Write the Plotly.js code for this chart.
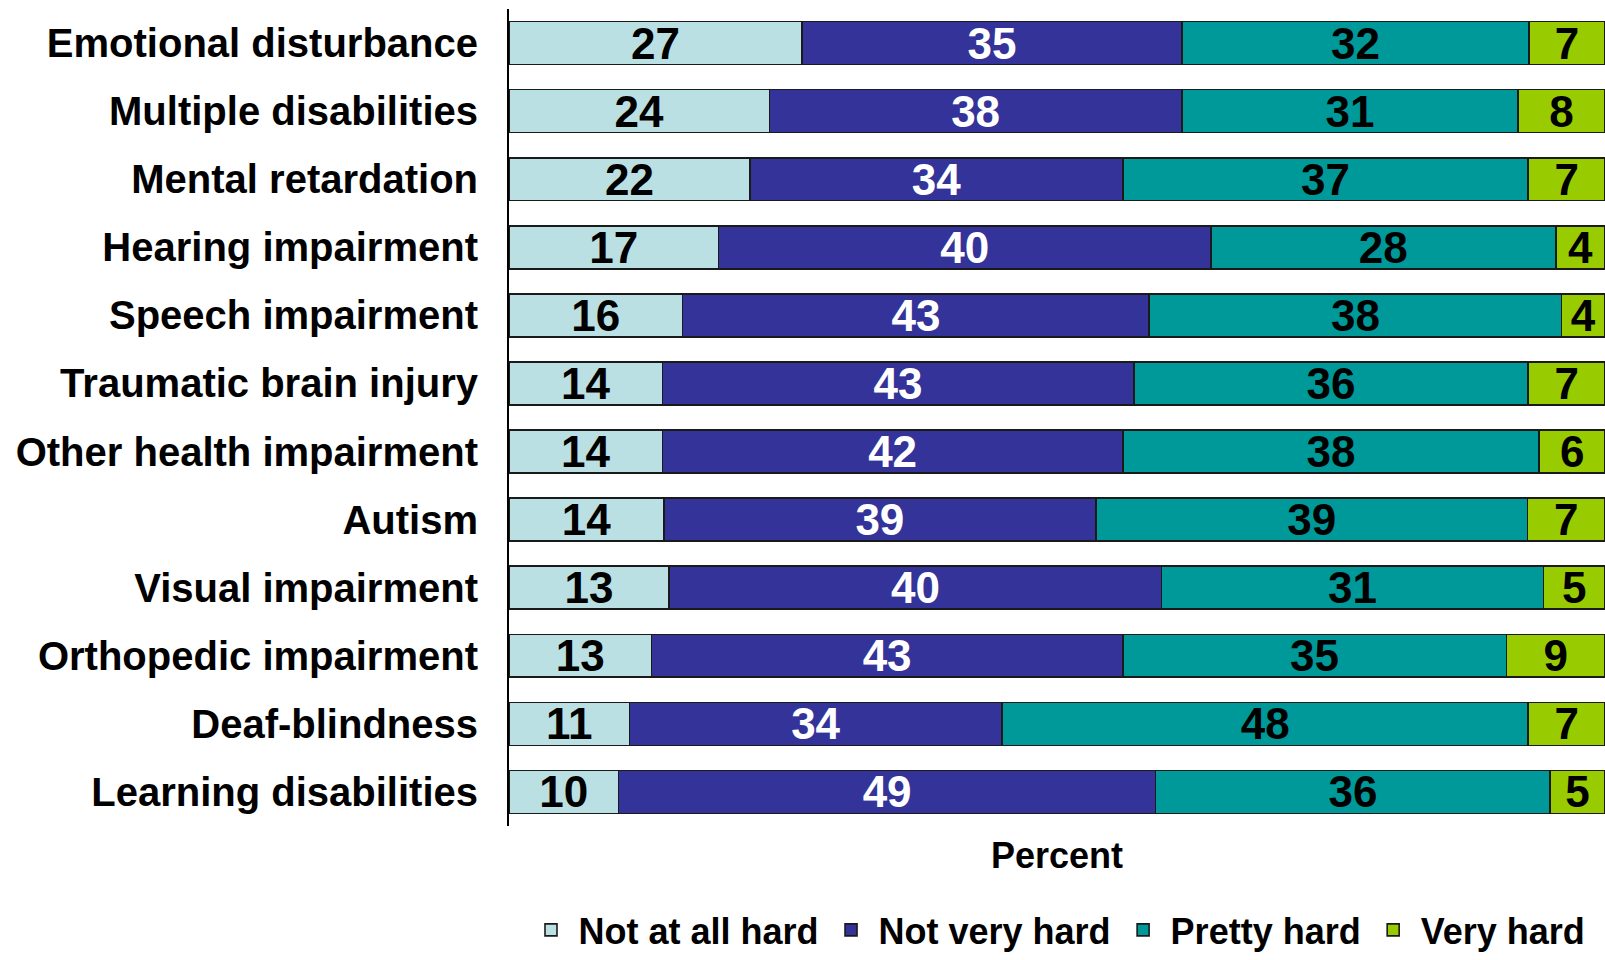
<!DOCTYPE html>
<html>
<head>
<meta charset="utf-8">
<script src="https://cdn.plot.ly/plotly-3.0.1.min.js"></script>
<style>
html,body{margin:0;padding:0;background:#fff;}
#chart{width:1605px;height:960px;}
</style>
</head>
<body>
<div id="chart"></div>
<script>
const categories = [
  "Emotional disturbance",
  "Multiple disabilities",
  "Mental retardation",
  "Hearing impairment",
  "Speech impairment",
  "Traumatic brain injury",
  "Other health impairment",
  "Autism",
  "Visual impairment",
  "Orthopedic impairment",
  "Deaf-blindness",
  "Learning disabilities"
];
const notAtAllHard = [27, 24, 22, 17, 16, 14, 14, 14, 13, 13, 11, 10];
const notVeryHard  = [35, 38, 34, 40, 43, 43, 42, 39, 40, 43, 34, 49];
const prettyHard   = [32, 31, 37, 28, 38, 36, 38, 39, 31, 35, 48, 36];
const veryHard     = [7, 8, 7, 4, 4, 7, 6, 7, 5, 9, 7, 5];

const seriesNames = ["Not at all hard", "Not very hard", "Pretty hard", "Very hard"];
const seriesValues = [notAtAllHard, notVeryHard, prettyHard, veryHard];
const seriesColors = ["#BBE0E3", "#333399", "#009999", "#99CC00"];
const textColors = ["#000000", "#FFFFFF", "#000000", "#000000"];

const traces = seriesNames.map((name, i) => ({
  type: "bar",
  orientation: "h",
  name: name,
  y: categories,
  x: seriesValues[i],
  text: seriesValues[i].map(String),
  texttemplate: "%{text}",
  textposition: "inside",
  insidetextanchor: "middle",
  textangle: 0,
  constraintext: "none",
  textfont: {family: "Liberation Sans, Arial, sans-serif", size: 44, color: textColors[i], weight: "bold"},
  marker: {color: seriesColors[i], line: {color: "#1a1a1a", width: 1.6}},
  hoverinfo: "skip"
}));

const layout = {
  width: 1605,
  height: 960,
  barmode: "stack",
  barnorm: "percent",
  bargap: 0.37,
  paper_bgcolor: "#ffffff",
  plot_bgcolor: "#ffffff",
  margin: {l: 509, r: 0, t: 9, b: 134, pad: 0},
  font: {family: "Liberation Sans, Arial, sans-serif", color: "#000000"},
  xaxis: {
    range: [0, 100],
    showgrid: false,
    zeroline: false,
    showline: false,
    showticklabels: false,
    ticks: "",
    fixedrange: true,
    title: {text: "Percent", font: {size: 36, weight: "bold", color: "#000"}, standoff: 16}
  },
  yaxis: {
    autorange: "reversed",
    showgrid: false,
    zeroline: false,
    showline: true,
    linecolor: "#000000",
    linewidth: 2,
    ticks: "",
    ticklabelstandoff: 21,
    tickfont: {size: 40, weight: "bold", color: "#000"},
    fixedrange: true
  },
  showlegend: true,
  legend: {
    orientation: "h",
    x: 0.5,
    xanchor: "center",
    yref: "container",
    y: 0,
    yanchor: "bottom",
    font: {size: 36, weight: "bold", color: "#000"},
    itemwidth: 45,
    traceorder: "normal",
    tracegroupgap: 0
  }
};

Plotly.newPlot("chart", traces, layout, {displayModeBar: false, staticPlot: true});
</script>
</body>
</html>
